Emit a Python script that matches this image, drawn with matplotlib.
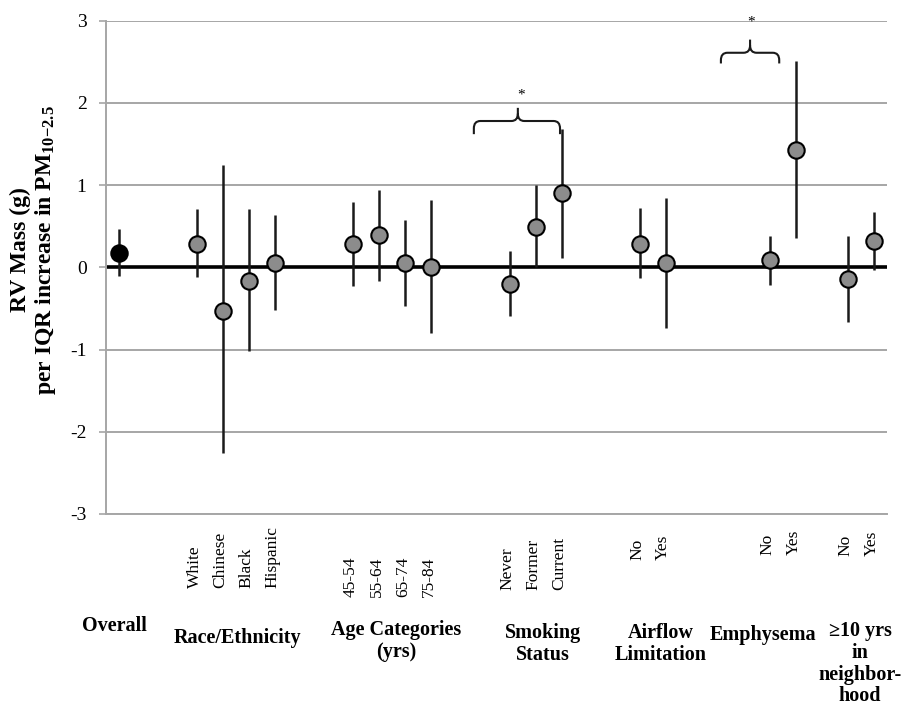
import matplotlib
matplotlib.use("Agg")
import matplotlib.pyplot as plt
from matplotlib.path import Path
from matplotlib.patches import PathPatch

plt.rcParams['font.family'] = ['Liberation Serif', 'DejaVu Serif']
plt.rcParams['mathtext.fontset'] = 'custom'
plt.rcParams['mathtext.rm'] = 'Liberation Serif:bold'
plt.rcParams['mathtext.it'] = 'Liberation Serif:bold'
plt.rcParams['mathtext.bf'] = 'Liberation Serif:bold'

# ---------------- data ----------------
labels = ["", "White", "Chinese", "Black", "Hispanic",
          "45-54", "55-64", "65-74", "75-84",
          "Never", "Former", "Current",
          "No", "Yes", "No", "Yes", "No", "Yes"]
estimate = [0.18, 0.29, -0.53, -0.17, 0.05,
            0.28, 0.39, 0.05, 0.01,
            -0.20, 0.49, 0.90,
            0.29, 0.05, 0.09, 1.43, -0.14, 0.32]
lower = [-0.10, -0.12, -2.26, -1.02, -0.52,
         -0.23, -0.17, -0.47, -0.80,
         -0.59, 0.01, 0.11,
         -0.13, -0.74, -0.21, 0.36, -0.66, -0.03]
upper = [0.47, 0.71, 1.24, 0.71, 0.64,
         0.80, 0.94, 0.58, 0.82,
         0.20, 1.00, 1.68,
         0.72, 0.84, 0.385, 2.51, 0.385, 0.67]
group_of = [0, 1, 1, 1, 1, 2, 2, 2, 2, 3, 3, 3, 4, 4, 5, 5, 6, 6]
group_names = ["Overall", "Race/Ethnicity", "Age Categories\n(yrs)",
               "Smoking\nStatus", "Airflow\nLimitation", "Emphysema",
               "\u226510 yrs\nin\nneighbor-\nhood"]
y_ticks = [-3, -2, -1, 0, 1, 2, 3]

# ---------------- layout ----------------
slot = [0, 3, 4, 5, 6, 9, 10, 11, 12, 15, 16, 17, 20, 21, 25, 26, 28, 29]
W, H = 906, 706
fig = plt.figure(figsize=(W / 100, H / 100), dpi=100)
ax_l, ax_r, ax_t, ax_b = 106, 887, 20.7, 514
ax = fig.add_axes([ax_l / W, 1 - ax_b / H, (ax_r - ax_l) / W, (ax_b - ax_t) / H])
ax.set_xlim(-0.5, 29.5)
ax.set_ylim(-3, 3)

grid_c = '#a6a6a6'
for v in y_ticks:
    if v != 0:
        ax.axhline(v, color=grid_c, lw=1.4, zorder=0)
ax.axhline(0, color='black', lw=2.6, zorder=1)

for s in ['top', 'right']:
    ax.spines[s].set_visible(False)
for s in ['left', 'bottom']:
    ax.spines[s].set_color(grid_c)
    ax.spines[s].set_linewidth(1.4)

ax.set_yticks(y_ticks)
ax.set_yticklabels([str(v) for v in y_ticks], fontsize=14)
ax.tick_params(axis='y', length=5, width=1.2, color=grid_c, pad=9)
ax.set_xticks([])

# error bars + points
for i in range(len(estimate)):
    ax.plot([slot[i], slot[i]], [lower[i], upper[i]], color='#1a1a1a',
            lw=1.8, zorder=2, solid_capstyle='butt')
    fc = 'black' if i == 0 else '#8c8c8c'
    ax.plot(slot[i], estimate[i], 'o', ms=11.8, mfc=fc, mec='black',
            mew=1.5, zorder=3)

# category tick labels (rotated)
label_bottom = [0, 588, 597, 590, 560, 555, 556]
for i, lab in enumerate(labels):
    if not lab:
        continue
    xd = ax.transData.transform((slot[i], 0))[0]
    g = group_of[i]
    fig.text(xd / W - 2.5 / W, 1 - label_bottom[g] / H, lab, rotation=90,
             ha='center', va='bottom', fontsize=12.5)

# group labels
group_x = [114, 237, 396, 543, 661, 763, 860]
group_top = [616, 628, 620, 623, 623, 625, 621]
for g, name in enumerate(group_names):
    fig.text(group_x[g] / W, 1 - group_top[g] / H, name, ha='center',
             va='top', fontsize=14.5, fontweight='bold', linespacing=1.12,
             multialignment='center')

# y-axis label
fig.text(34 / W, 1 - 250 / H,
         "RV Mass (g)\nper IQR increase in PM$_{10{-}2.5}$",
         rotation=90, ha='center', va='center', fontsize=17,
         fontweight='bold', multialignment='center', linespacing=1.1)


# braces marking significant interaction
def brace(x0, x1, xm, y_low, y_h, y_tip, rx=0.25, ry=0.09):
    verts = [(x0, y_low), (x0, y_h - ry), (x0, y_h), (x0 + rx, y_h),
             (xm - rx, y_h), (xm, y_h), (xm, y_h + ry), (xm, y_tip),
             (xm, y_h + ry), (xm, y_h), (xm + rx, y_h),
             (x1 - rx, y_h), (x1, y_h), (x1, y_h - ry), (x1, y_low)]
    codes = [Path.MOVETO, Path.LINETO, Path.CURVE3, Path.CURVE3,
             Path.LINETO, Path.CURVE3, Path.CURVE3, Path.LINETO,
             Path.MOVETO, Path.CURVE3, Path.CURVE3,
             Path.LINETO, Path.CURVE3, Path.CURVE3, Path.LINETO]
    ax.add_patch(PathPatch(Path(verts, codes), fill=False, lw=1.5,
                           edgecolor='#1a1a1a', zorder=2))


brace(13.63, 16.94, 15.32, 1.62, 1.78, 1.94)
ax.text(15.45, 2.10, "*", ha='center', va='center', fontsize=11)
brace(23.12, 25.36, 24.24, 2.48, 2.61, 2.77)
ax.text(24.26, 2.98, "*", ha='center', va='center', fontsize=11)

fig.savefig("out.png", dpi=100, facecolor='white')
